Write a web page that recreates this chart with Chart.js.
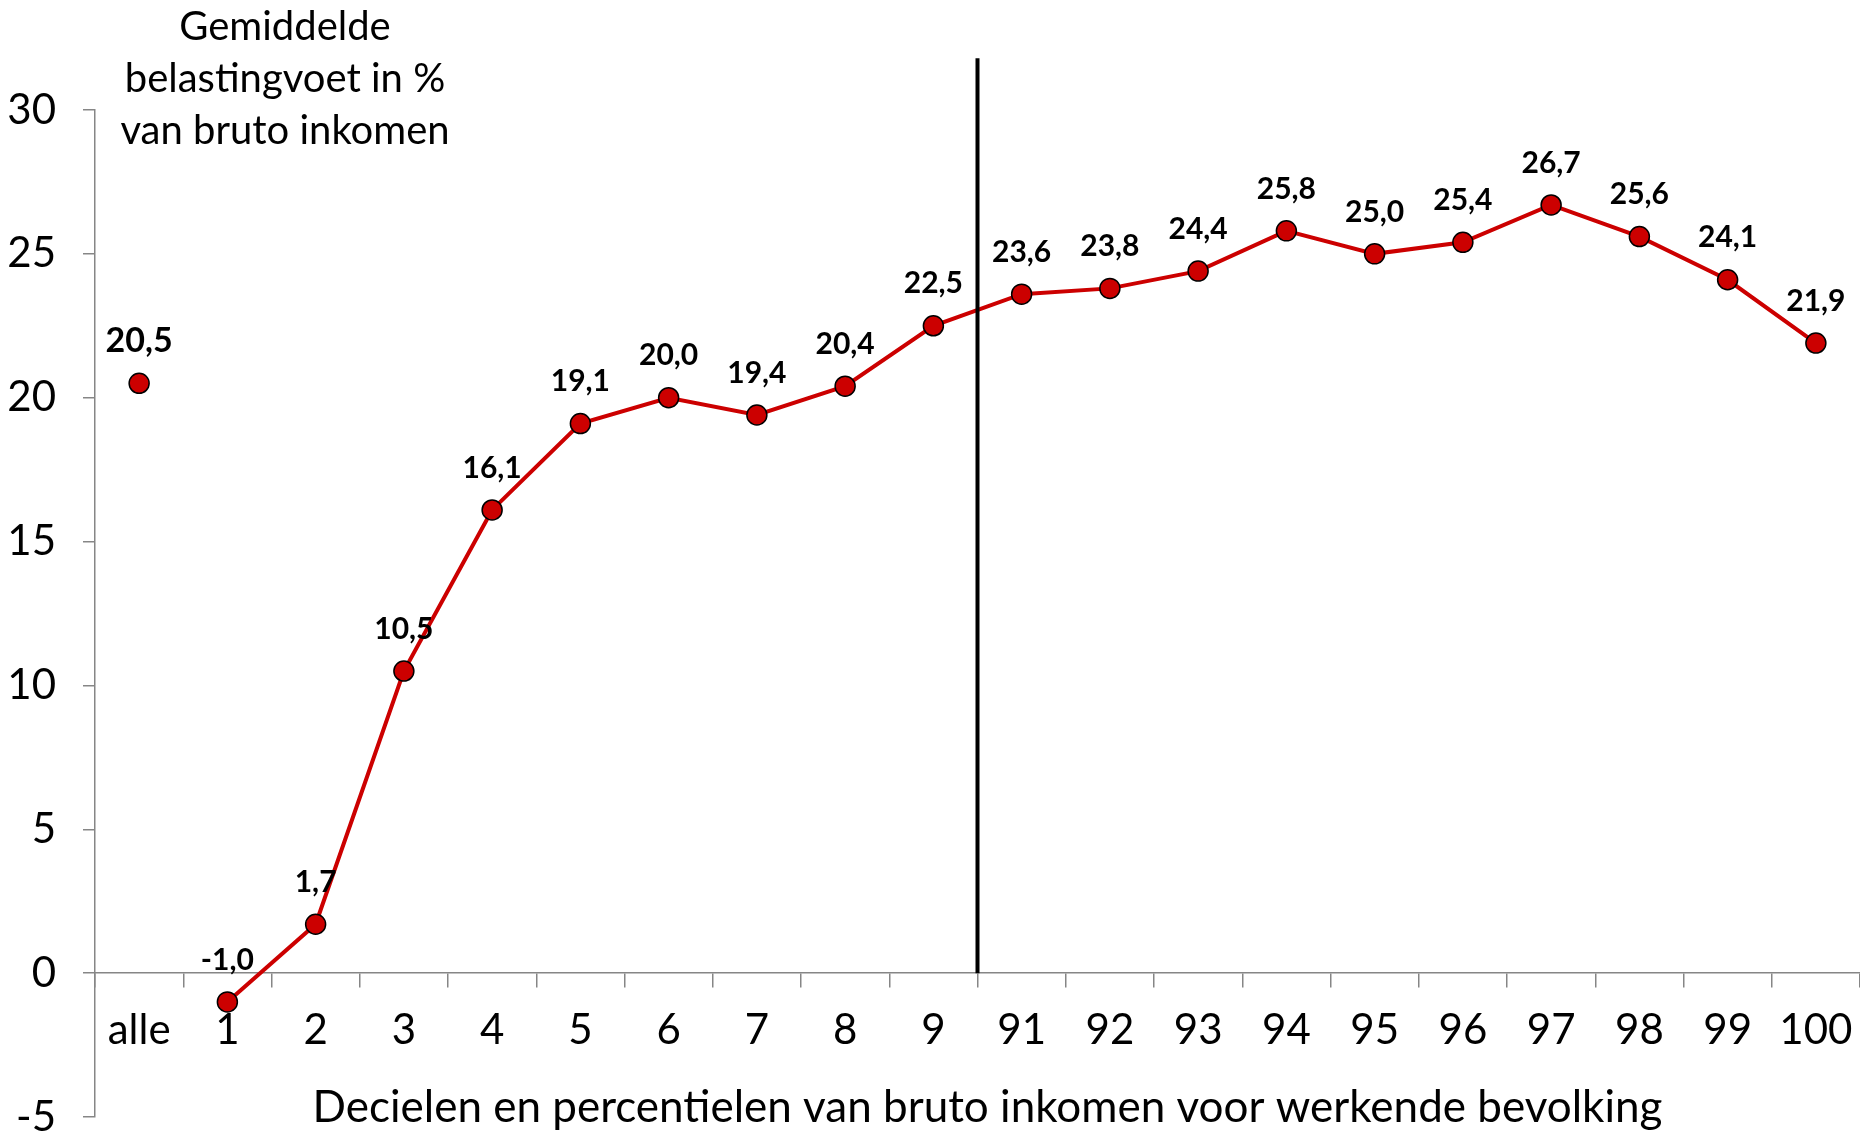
<!DOCTYPE html>
<html>
<head>
<meta charset="utf-8">
<script src="https://cdn.jsdelivr.net/npm/chart.js@4/dist/chart.umd.min.js"></script>
<style>
  html, body { margin: 0; padding: 0; background: #fff; }
  .chart { position: relative; width: 1860px; height: 1131px; }
</style>
</head>
<body>
<div class="chart"><canvas id="c"></canvas></div>
<script>
const FONT = 'Lato, "Open Sans", sans-serif';

// data
const categories = ["alle", "1", "2", "3", "4", "5", "6", "7", "8", "9",
  "91", "92", "93", "94", "95", "96", "97", "98", "99", "100"];
const alleValue = [20.5];
const percentileValues = [-1.0, 1.7, 10.5, 16.1, 19.1, 20.0, 19.4, 20.4, 22.5,
  23.6, 23.8, 24.4, 25.8, 25.0, 25.4, 26.7, 25.6, 24.1, 21.9];
const yTicks = [-5, 0, 5, 10, 15, 20, 25, 30];
const titleLines = ["Gemiddelde", "belastingvoet in %", "van bruto inkomen"];
const xTitle = "Decielen en percentielen van bruto inkomen voor werkende bevolking";
const dividerAfter = "9";
const dividerTop = 31.8;

const red = "#cc0000";

const alleSeries = [alleValue[0]].concat(percentileValues.map(() => null));
const lineSeries = [null].concat(percentileValues);

const labelsPlugin = {
  id: "valueLabels",
  afterDatasetsDraw(chart) {
    const ctx = chart.ctx;
    ctx.save();
    ctx.fillStyle = "#000";
    ctx.textAlign = "center";
    ctx.textBaseline = "middle";
    chart.data.datasets.forEach((ds, di) => {
      const meta = chart.getDatasetMeta(di);
      ds.data.forEach((v, i) => {
        if (v === null) return;
        const pt = meta.data[i];
        ctx.font = "bold " + (di === 0 ? 34 : 30) + "px " + FONT;
        ctx.fillText(v.toFixed(1).replace(".", ","), pt.x, pt.y - 42);
      });
    });
    ctx.restore();
  },
};

const decorPlugin = {
  id: "decor",
  afterDraw(chart) {
    const ctx = chart.ctx;
    const x = chart.scales.x;
    const y = chart.scales.y;
    const i = categories.indexOf(dividerAfter);
    const xd = (x.getPixelForValue(i) + x.getPixelForValue(i + 1)) / 2;
    ctx.save();
    ctx.strokeStyle = "#000";
    ctx.lineWidth = 4;
    ctx.beginPath();
    ctx.moveTo(xd, y.getPixelForValue(0));
    ctx.lineTo(xd, y.getPixelForValue(dividerTop));
    ctx.stroke();

    ctx.fillStyle = "#000";
    ctx.textAlign = "center";
    ctx.textBaseline = "middle";
    ctx.font = "40px " + FONT;
    titleLines.forEach((t, k) => ctx.fillText(t, 285, 27 + k * 52));
    ctx.font = "44px " + FONT;
    ctx.fillText(xTitle, (x.left + x.right) / 2 + 10, 1108);
    ctx.restore();
  },
};

new Chart(document.getElementById("c").getContext("2d"), {
  type: "line",
  data: {
    labels: categories,
    datasets: [
      {
        data: alleSeries,
        showLine: false,
        pointRadius: 10,
        pointBackgroundColor: red,
        pointBorderColor: "#000",
        pointBorderWidth: 1.5,
      },
      {
        data: lineSeries,
        borderColor: red,
        borderWidth: 4,
        tension: 0,
        pointRadius: 10,
        pointBackgroundColor: red,
        pointBorderColor: "#000",
        pointBorderWidth: 1.5,
      },
    ],
  },
  options: {
    animation: false,
    responsive: true,
    maintainAspectRatio: false,
    layout: { autoPadding: false, padding: { top: 110, bottom: 14, left: 0, right: 0 } },
    plugins: { legend: { display: false }, tooltip: { enabled: false } },
    scales: {
      x: {
        type: "category",
        position: { y: 0 },
        offset: true,
        afterFit(scale) {
          scale.height = 0;
          scale.paddingLeft = 0;
          scale.paddingRight = 0;
        },
        grid: { offset: true, drawOnChartArea: false, tickLength: 14, color: "#868686", lineWidth: 1.5 },
        border: { color: "#868686", width: 1.5 },
        ticks: { color: "#000", font: { family: FONT, size: 42 }, padding: 18, maxRotation: 0, autoSkip: false },
      },
      y: {
        min: -5,
        max: 30,
        afterBuildTicks(scale) { scale.ticks = yTicks.map((v) => ({ value: v })); },
        afterFit(scale) {
          scale.width = 95;
          scale.paddingTop = 0;
          scale.paddingBottom = 0;
        },
        grid: { drawOnChartArea: false, tickLength: 12, color: "#868686", lineWidth: 1.5 },
        border: { color: "#868686", width: 1.5 },
        ticks: { color: "#000", font: { family: FONT, size: 42 }, padding: 27 },
      },
    },
  },
  plugins: [labelsPlugin, decorPlugin],
});
</script>
</body>
</html>
